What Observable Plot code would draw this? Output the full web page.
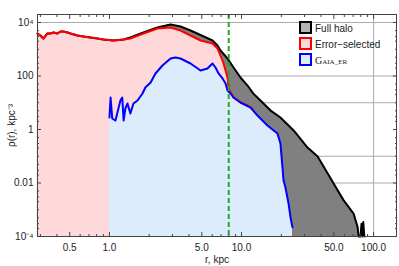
<!DOCTYPE html>
<html><head><meta charset="utf-8">
<script src="https://cdn.jsdelivr.net/npm/d3@7"></script>
<script src="https://cdn.jsdelivr.net/npm/@observablehq/plot@0.6"></script>
<style>html,body{margin:0;padding:0;background:#fff} svg{display:block}</style>
</head><body><div id="chart"></div>
<script>
// Full halo (black)
const fullR = [0.285,0.300,0.316,0.339,0.357,0.377,0.404,0.426,0.449,0.481,0.507,0.573,0.635,0.718,0.811,0.901,1.07,1.28,1.44,1.81,2.31,2.90,3.45,4.11,4.89,6.03,6.58,6.93,7.83,8.70,9.82,11.1,12.3,13.9,16.6,19.7,24.8,31.6,37.7,49.8,59.3,70.5,75.7,76.9,79.5,81.0,82.0,83.5,85.0];
const fullRho = [3880,3270,2510,3880,3880,4230,3880,4610,4610,4230,3880,3270,3000,2750,2520,2310,2120,2310,2750,4230,6510,8420,7080,5020,3400,2120,1380,897,451,208,88,44,22,12.1,5.1,2.8,0.92,0.212,0.098,0.0096,0.00224,0.00072,0.00022,1e-4,1e-4,3e-4,1e-4,3.5e-4,1e-4];
// Error-selected (red)
const errR = [0.285,0.300,0.316,0.339,0.357,0.377,0.404,0.426,0.449,0.481,0.507,0.573,0.635,0.718,0.811,0.901,1.07,1.28,1.44,1.81,2.31,2.90,3.45,4.11,4.89,6.03,6.58,6.93,7.31,7.83,7.98,8.26,8.70,9.82,11.1,12.1];
const errRho = [3880,3270,2510,3880,3880,4230,3880,4610,4610,4230,3880,3270,3000,2750,2520,2310,2120,2310,2520,3880,5970,6510,5020,3270,2120,1640,1070,583,293,88,37,24.2,15.7,10.2,7.9,6.1];
// Gaia_ER (blue)
const gaiaR = [1.00,1.02,1.05,1.11,1.15,1.21,1.25,1.28,1.32,1.37,1.44,1.52,1.63,1.78,1.87,2.05,2.23,2.52,2.90,3.16,3.45,4.11,4.89,5.52,6.03,6.35,6.70,7.18,7.57,7.83,8.26,8.70,9.82,11.7,13.2,15.7,18.7,19.7,20.2,20.8,21.5,22.7,23.5,24.3];
const gaiaRho = [2.81,15.7,2.58,2.17,4.32,12.1,15.7,2.17,6.1,9.4,3.96,9.4,12.1,22.2,37,57,124,247,451,492,451,293,161,191,293,208,124,81,52,28.7,22.2,15.7,10.2,6.6,3.33,1.41,0.71,0.30,0.07,0.0124,0.0068,0.0017,5.1e-4,2.2e-4];
const sunR = [8.0];

const xTickValues = [0.5,1,5,10,50,100];
const xTickLabels = ["0.5","1.0","5.0","10.0","50.0","100.0"];
const xMinor = [0.3,0.4,0.6,0.7,0.8,0.9,2,3,4,6,7,8,9,20,30,40,60,70,80,90];
const yTickValues = [1e-4,1e-2,1,100,1e4];
const yTickLabels = ["10\u207B\u2074","0.01","1","100","10\u2074"];
const yMinor = [1e-3,0.1,10,1000, 2e-4,3e-4,5e-4,2e-3,3e-3,5e-3,2e-2,3e-2,5e-2,0.2,0.3,0.5,2,3,5,20,30,50,200,300,500,2000,3000,5000];
const gridXv = [100];
const gridYv = [1e4,100,10,0.1,0.01];
const legendNames = ["Full halo","Error\u2212selected","Gaia_ER"];

const toRows = (R, V) => R.map((r,i)=>({r, rho:V[i]}));
const full = toRows(fullR, fullRho), err = toRows(errR, errRho), gaia = toRows(gaiaR, gaiaRho);
const BASE = 1e-4;

const tick = (vals, anchor, size, axis) => (axis==="x"?Plot.axisX:Plot.axisY)(vals, {anchor, tickSize:-size, tickFormat:()=>"", label:null, stroke:"#444"});

const plot = Plot.plot({
  width:399, height:266, marginLeft:37, marginRight:3, marginTop:14, marginBottom:30,
  style:{fontFamily:"'Liberation Sans', Arial, sans-serif", fontSize:"10px", background:"#fff", color:"#222"},
  x:{type:"log", domain:[0.2853,149]},
  y:{type:"log", domain:[1e-4,19900]},
  marks:[
    Plot.gridX(gridXv, {stroke:"#aaa", strokeOpacity:1}),
    Plot.gridY(gridYv, {stroke:"#aaa", strokeOpacity:1}),
    Plot.areaY(full, {x:"r", y1:BASE, y2:"rho", fill:"#808080"}),
    Plot.areaY(err, {x:"r", y1:BASE, y2:"rho", fill:"#ffd9d9"}),
    Plot.areaY(gaia, {x:"r", y1:BASE, y2:"rho", fill:"#dcecfd"}),
    Plot.lineY(full, {x:"r", y:"rho", stroke:"#000", strokeWidth:2}),
    Plot.lineY(err, {x:"r", y:"rho", stroke:"#f00", strokeWidth:2}),
    Plot.lineY(gaia, {x:"r", y:"rho", stroke:"#00f", strokeWidth:2}),
    Plot.ruleX(sunR, {stroke:"#22aa22", strokeWidth:2, strokeDasharray:"5,3"}),
    Plot.frame({stroke:"#444"}),
    Plot.text(xTickValues, {x:d=>d, text:(d,i)=>xTickLabels[i], frameAnchor:"bottom", dy:11, lineAnchor:"middle", fill:"#222", fontSize:10}),
    Plot.axisX({anchor:"bottom", ticks:[], label:"r, kpc", labelAnchor:"center", labelArrow:"none", labelOffset:26}),
    Plot.axisY(yTickValues, {anchor:"left", tickSize:0, tickPadding:4, tickFormat:d=>yTickLabels[yTickValues.indexOf(d)], label:"\u03C1(r), kpc\u207B\u00B3", labelAnchor:"center", labelArrow:"none", labelOffset:30}),
    tick(xTickValues,"bottom",4,"x"), tick(xMinor,"bottom",2,"x"),
    tick(xTickValues,"top",4,"x"), tick(xMinor,"top",2,"x"),
    tick(yTickValues,"left",4,"y"), tick(yMinor,"left",2,"y"),
    tick(yTickValues,"right",4,"y"), tick(yMinor,"right",2,"y")
  ]
});

// legend
const svg = d3.select(plot);
const lg = svg.append("g").attr("font-family","'Liberation Sans', Arial, sans-serif").attr("font-size",10).attr("text-anchor","start");
const sw = [["#b3b3b3","#000"],["#ffd9d9","#f00"],["#dcecfd","#00f"]];
legendNames.forEach((name,i)=>{
  const y0 = 22 + i*16;
  lg.append("rect").attr("x",300).attr("y",y0).attr("width",11).attr("height",11).attr("fill",sw[i][0]).attr("stroke",sw[i][1]).attr("stroke-width",2);
  const t = lg.append("text").attr("x",315).attr("y",y0+9.5).attr("fill","#222").attr("text-anchor","start");
  if (name==="Gaia_ER") {
    t.attr("font-family","'Liberation Serif', 'DejaVu Serif', serif");
    t.append("tspan").text("G");
    t.append("tspan").attr("font-size",7).text("AIA_ER");
  } else t.text(name);
});
document.getElementById("chart").appendChild(plot);
</script>
</body></html>
